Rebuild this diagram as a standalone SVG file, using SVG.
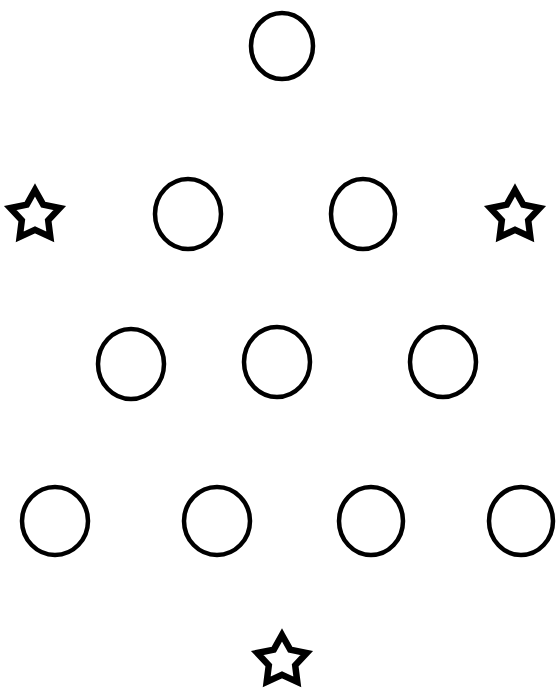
<svg xmlns="http://www.w3.org/2000/svg" width="558" height="689" viewBox="0 0 558 689">
<defs>
<style>
.c{fill:none;stroke:#000;stroke-width:4.5}
.s{fill:none;stroke:#000;stroke-width:6.5;stroke-linejoin:miter}
</style>
<polygon id="star" points="0,-26 8.2,-11.3 24.7,-8.0 13.2,4.3 15.3,20.9 0,13.9 -15.3,20.9 -13.2,4.3 -24.7,-8.0 -8.2,-11.3"/>
</defs>
<rect width="558" height="689" fill="#fff"/>
<g id="c1"><ellipse class="c" cx="282" cy="46" rx="31" ry="33"/></g>
<g id="c2"><ellipse class="c" cx="188" cy="214" rx="33" ry="35"/></g>
<g id="c3"><ellipse class="c" cx="363" cy="214" rx="32" ry="35"/></g>
<g id="c4"><ellipse class="c" cx="131" cy="364" rx="33" ry="35"/></g>
<g id="c5"><ellipse class="c" cx="277" cy="362" rx="33" ry="35"/></g>
<g id="c6"><ellipse class="c" cx="443" cy="362" rx="33" ry="35"/></g>
<g id="c7"><ellipse class="c" cx="55" cy="521" rx="33" ry="34"/></g>
<g id="c8"><ellipse class="c" cx="217" cy="521" rx="33" ry="34"/></g>
<g id="c9"><ellipse class="c" cx="371" cy="521" rx="32" ry="34"/></g>
<g id="c10"><ellipse class="c" cx="521" cy="521" rx="32" ry="34"/></g>
<g id="s1"><use href="#star" class="s" x="35" y="216"/></g>
<g id="s2"><use href="#star" class="s" x="515" y="216"/></g>
<g id="s3"><use href="#star" class="s" x="282" y="661"/></g>
</svg>
